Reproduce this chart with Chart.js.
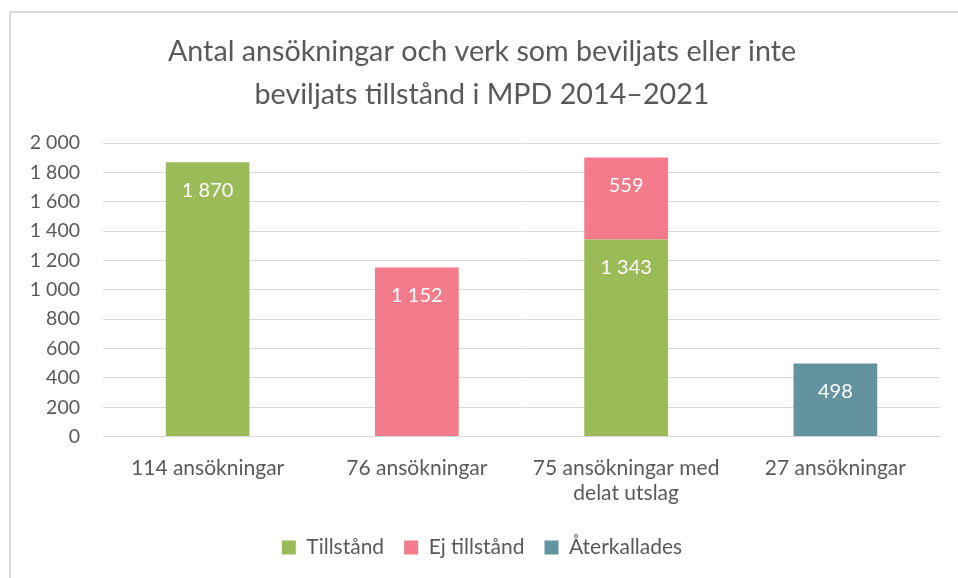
<!DOCTYPE html>
<html>
<head>
<meta charset="utf-8">
<script src="https://cdn.jsdelivr.net/npm/chart.js@4"></script>
<style>
  html, body { margin: 0; padding: 0; background: #fff; overflow: hidden; }
  #chart { position: absolute; left: 0; top: 0; }
  #frame {
    position: absolute; left: 9px; top: 11px;
    width: 949px; height: 567px;
    border-left: 2px solid #d9d9d9; border-top: 2px solid #d9d9d9;
    pointer-events: none;
  }
</style>
</head>
<body>
<canvas id="chart" width="958" height="578"></canvas>
<div id="frame"></div>
<script>
// categories (x axis)
const categories = [
    "114 ansökningar",
    "76 ansökningar",
    ["75 ansökningar med", "delat utslag"],
    "27 ansökningar"
];
// series values per category
const tillstand = [1870, null, 1343, null];
const ejTillstand = [null, 1152, 559, null];
const aterkallades = [null, null, null, 498];
// y axis
const yMax = 2000;
const yStep = 200;

const grey = '#595959';
const font = 'Lato, "Open Sans", sans-serif';

function fmt(v) {
    return String(v).replace(/\B(?=(\d{3})+(?!\d))/g, ' ');
}

// draw the value labels inside each bar segment
const valueLabels = {
    id: 'valueLabels',
    afterDatasetsDraw(chart) {
        const ctx = chart.ctx;
        ctx.save();
        ctx.fillStyle = '#ffffff';
        ctx.font = '20px ' + font;
        ctx.textAlign = 'center';
        ctx.textBaseline = 'middle';
        chart.data.datasets.forEach((ds, i) => {
            const meta = chart.getDatasetMeta(i);
            meta.data.forEach((bar, j) => {
                const v = ds.data[j];
                if (v == null) return;
                ctx.fillText(fmt(v), bar.x, bar.y + 28);
            });
        });
        ctx.restore();
    }
};

let chart = new Chart(document.getElementById('chart'), {
    type: 'bar',
    data: {
        labels: categories,
        datasets: [
            {
                label: 'Tillstånd',
                backgroundColor: '#9bbb59',
                data: tillstand
            },
            {
                label: 'Ej tillstånd',
                backgroundColor: '#f47b8b',
                data: ejTillstand
            },
            {
                label: 'Återkallades',
                backgroundColor: '#62939f',
                data: aterkallades
            }
        ]
    },
    options: {
        responsive: false,
        animation: false,
        maintainAspectRatio: false,
        datasets: {
            bar: { categoryPercentage: 0.8, barPercentage: 0.5 }
        },
        layout: { padding: { left: 24, right: 18, top: 30, bottom: 10 } },
        scales: {
            x: {
                stacked: true,
                grid: { display: false },
                border: { color: '#d9d9d9' },
                ticks: { color: grey, font: { family: font, size: 21, lineHeight: 1.2 }, padding: 11 }
            },
            y: {
                stacked: true,
                min: 0,
                max: yMax,
                ticks: {
                    stepSize: yStep,
                    color: grey,
                    font: { family: font, size: 19.5 },
                    padding: 23,
                    callback: (v) => fmt(v)
                },
                grid: { color: '#d9d9d9', drawTicks: false },
                border: { display: false },
                afterFit: (scale) => { scale.width = 79; }
            }
        },
        plugins: {
            title: {
                display: true,
                text: ['Antal ansökningar och verk som beviljats eller inte',
                       'beviljats tillstånd i MPD 2014–2021'],
                color: grey,
                font: { family: font, size: 28.7, weight: 'normal', lineHeight: 1.5 },
                padding: { top: 0, bottom: 27 }
            },
            legend: {
                position: 'bottom',
                labels: {
                    color: grey,
                    font: { family: font, size: 21 },
                    boxWidth: 14,
                    boxHeight: 14,
                    padding: 20
                }
            },
            tooltip: { enabled: false }
        }
    },
    plugins: [valueLabels]
});
</script>
</body>
</html>
